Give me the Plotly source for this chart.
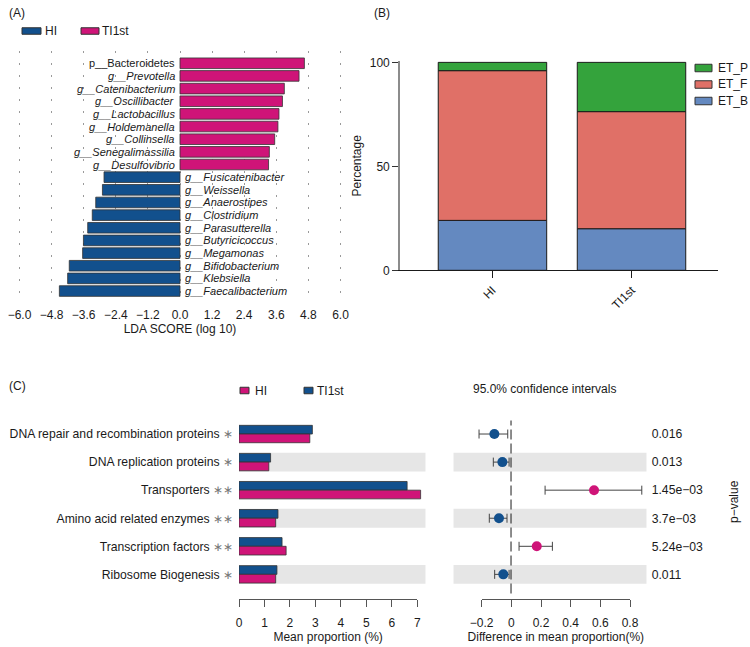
import plotly.graph_objects as go

W, H = 750, 647
FONT = "Liberation Sans, Arial, Helvetica, sans-serif"
TXT = "#1a1a1a"
BLUE = "#12508d"
PINK = "#cf1478"

# ---------------- data ----------------
# Panel A : LEfSe LDA scores
taxa = ["p__Bacteroidetes", "g__Prevotella", "g__Catenibacterium", "g__Oscillibacter",
        "g__Lactobacillus", "g__Holdemanella", "g__Collinsella", "g__Senegalimassilia",
        "g__Desulfovibrio", "g__Fusicatenibacter", "g__Weissella", "g__Anaerostipes",
        "g__Clostridium", "g__Parasutterella", "g__Butyricicoccus", "g__Megamonas",
        "g__Bifidobacterium", "g__Klebsiella", "g__Faecalibacterium"]
lda = [4.65, 4.45, 3.90, 3.83, 3.70, 3.66, 3.54, 3.34, 3.31,
       -2.84, -2.90, -3.15, -3.28, -3.45, -3.61, -3.64, -4.14, -4.20, -4.51]
lda_ticks = [-6.0, -4.8, -3.6, -2.4, -1.2, 0.0, 1.2, 2.4, 3.6, 4.8, 6.0]

# Panel B : enterotype composition
groups = ["HI", "TI1st"]
et_b = [24.0, 20.0]
et_f = [72.0, 56.3]
et_p = [4.0, 23.7]
pct_ticks = [0, 50, 100]

# Panel C : functional differences
functions = ["DNA repair and recombination proteins", "DNA replication proteins",
             "Transporters", "Amino acid related enzymes", "Transcription factors",
             "Ribosome Biogenesis"]
signif = ["∗", "∗", "∗∗", "∗∗", "∗∗", "∗"]
mean_hi = [2.78, 1.17, 7.13, 1.44, 1.85, 1.44]
mean_ti = [2.88, 1.24, 6.60, 1.53, 1.69, 1.49]
diff = [-0.112, -0.058, 0.558, -0.081, 0.173, -0.052]
ci_low = [-0.215, -0.119, 0.229, -0.146, 0.054, -0.110]
ci_high = [-0.022, -0.013, 0.879, -0.027, 0.278, -0.013]
pvals = ["0.016", "0.013", "1.45e−03", "3.7e−03", "5.24e−03", "0.011"]
mean_ticks = [0, 1, 2, 3, 4, 5, 6, 7]
diff_ticks = [-0.2, 0, 0.2, 0.4, 0.6, 0.8]


def fx(p):
    return p / W


def fy(p):
    return 1 - p / H


def num_label(v):
    return f"{v:g}".replace("-", "−")


fig = go.Figure()

# ---------------- Panel A ----------------
hi_idx = [i for i, v in enumerate(lda) if v < 0]
ti_idx = [i for i, v in enumerate(lda) if v >= 0]
fig.add_trace(go.Bar(x=[lda[i] for i in hi_idx], y=[taxa[i] for i in hi_idx], orientation="h",
                     width=0.84, marker=dict(color=BLUE, line=dict(color="#333", width=0.8)),
                     name="HI", showlegend=False, xaxis="x", yaxis="y"))
fig.add_trace(go.Bar(x=[lda[i] for i in ti_idx], y=[taxa[i] for i in ti_idx], orientation="h",
                     width=0.84, marker=dict(color=PINK, line=dict(color="#333", width=0.8)),
                     name="TI1st", showlegend=False, xaxis="x", yaxis="y"))

annotations = []
for t, v in zip(taxa, lda):
    lab = t if t.startswith("p__") else "<i>" + t + "</i>"
    annotations.append(dict(x=0, y=t, xref="x", yref="y", text=lab, showarrow=False,
                            xanchor="right" if v >= 0 else "left", xshift=-3 if v >= 0 else 3,
                            font=dict(size=11, color=TXT)))

# ---------------- Panel B ----------------
et_colors = {"ET_B": "#6489c0", "ET_F": "#e07067", "ET_P": "#34a33c"}
base_f = et_b
base_p = [b + f for b, f in zip(et_b, et_f)]
for name, vals, base in [("ET_B", et_b, None), ("ET_F", et_f, base_f), ("ET_P", et_p, base_p)]:
    fig.add_trace(go.Bar(x=groups, y=vals, base=base, width=0.78, name=name,
                         marker=dict(color=et_colors[name], line=dict(color="#1a1a1a", width=1)),
                         showlegend=False, xaxis="x2", yaxis="y2"))

# ---------------- Panel C (left) ----------------
W_BAR = 0.31
fig.add_trace(go.Bar(x=mean_ti, y=functions, orientation="h", width=W_BAR, offset=-W_BAR,
                     marker=dict(color=BLUE, line=dict(color="#333", width=0.8)),
                     name="TI1st", showlegend=False, xaxis="x3", yaxis="y3"))
fig.add_trace(go.Bar(x=mean_hi, y=functions, orientation="h", width=W_BAR, offset=0,
                     marker=dict(color=PINK, line=dict(color="#333", width=0.8)),
                     name="HI", showlegend=False, xaxis="x3", yaxis="y3"))

# ---------------- Panel C (right) ----------------
pt_colors = [PINK if d > 0 else BLUE for d in diff]
fig.add_trace(go.Scatter(x=diff, y=functions, mode="markers",
                         marker=dict(color=pt_colors, size=10),
                         error_x=dict(type="data", symmetric=False,
                                      array=[h - d for h, d in zip(ci_high, diff)],
                                      arrayminus=[d - l for d, l in zip(diff, ci_low)],
                                      color="#444", thickness=1, width=4.5),
                         showlegend=False, xaxis="x4", yaxis="y4"))

# helper traces so that the free bottom axes of panel C are drawn
fig.add_trace(go.Scatter(x=[None], y=[None], xaxis="x5", yaxis="y3", showlegend=False, hoverinfo="skip"))
fig.add_trace(go.Scatter(x=[None], y=[None], xaxis="x6", yaxis="y4", showlegend=False, hoverinfo="skip"))

# ---------------- shapes ----------------
shapes = []
C_LEFT_RANGE = [0, 7.33]
C_RIGHT_RANGE = [-0.388, 0.912]
for i, f in enumerate(functions):
    if i % 2 == 1:
        shapes.append(dict(type="rect", xref="x3", yref="y3", x0=C_LEFT_RANGE[0], x1=C_LEFT_RANGE[1],
                           y0=i - 0.335, y1=i + 0.335, fillcolor="#e6e6e6", line=dict(width=0),
                           layer="below"))
        shapes.append(dict(type="rect", xref="x4", yref="y4", x0=C_RIGHT_RANGE[0], x1=C_RIGHT_RANGE[1],
                           y0=i - 0.335, y1=i + 0.335, fillcolor="#e6e6e6", line=dict(width=0),
                           layer="below"))
shapes.append(dict(type="line", xref="x4", yref="paper", x0=0, x1=0, y0=fy(593.5), y1=fy(420.5),
                   line=dict(color="#1a1a1a", width=1, dash="10px,4px")))


# legend keys drawn as boxes + labels
def key(x0, x1, yc, h, color, label, tx, lw=1):
    shapes.append(dict(type="rect", xref="paper", yref="paper", x0=fx(x0), x1=fx(x1),
                       y0=fy(yc + h / 2), y1=fy(yc - h / 2), fillcolor=color,
                       line=dict(color="#333", width=lw)))
    annotations.append(dict(x=fx(tx), y=fy(yc), xref="paper", yref="paper", text=label,
                            showarrow=False, xanchor="left", yanchor="middle",
                            font=dict(size=12, color=TXT)))


key(22, 41, 31, 6.5, BLUE, "HI", 43)
key(81, 99, 31, 6.5, PINK, "TI1st", 100)
key(695, 712, 68, 7.5, et_colors["ET_P"], "ET_P", 716)
key(695, 712, 84.5, 7.5, et_colors["ET_F"], "ET_F", 716)
key(695, 712, 101, 7.5, et_colors["ET_B"], "ET_B", 716)
key(240, 249, 390.5, 6.5, PINK, "HI", 253)
key(304, 313, 390.5, 6.5, BLUE, "TI1st", 315)

for txt, x, y in [("(A)", 7, 13), ("(B)", 372, 13), ("(C)", 7, 386)]:
    annotations.append(dict(x=fx(x), y=fy(y), xref="paper", yref="paper", text=txt, showarrow=False,
                            xanchor="left", yanchor="middle", font=dict(size=12, color=TXT)))
annotations.append(dict(x=fx(544), y=fy(389), xref="paper", yref="paper",
                        text="95.0% confidence intervals", showarrow=False, xanchor="center",
                        yanchor="middle", font=dict(size=12, color=TXT)))
annotations.append(dict(x=fx(734), y=fy(502), xref="paper", yref="paper", text="p−value",
                        showarrow=False, textangle=-90, xanchor="center", yanchor="middle",
                        font=dict(size=12, color=TXT)))

tick_font = dict(size=12, color=TXT, family=FONT)
tick_font_c = dict(size=12.2, color=TXT, family=FONT)
hidden = dict(showline=False, showgrid=False, zeroline=False, ticks="", showticklabels=False,
              automargin=False)

fig.update_layout(
    width=W, height=H, margin=dict(l=0, r=0, t=0, b=0),
    paper_bgcolor="white", plot_bgcolor="rgba(0,0,0,0)",
    font=dict(family=FONT, size=12, color=TXT),
    barmode="overlay", showlegend=False,
    shapes=shapes, annotations=annotations,
    # Panel A
    xaxis=dict(domain=[fx(3.45), fx(356.55)], range=[-6.6, 6.6], anchor="y",
               tickvals=lda_ticks, tickformat=".1f", ticks="", showline=False, zeroline=False,
               showgrid=True, gridcolor="#9a9a9a", gridwidth=1, griddash="2px,10px",
               ticklabelstandoff=9, tickfont=tick_font, automargin=False,
               title=dict(text="LDA SCORE (log 10)", standoff=3, font=dict(size=12))),
    yaxis=dict(domain=[fy(297), fy(51)], range=[18.47, -0.97], anchor="x", type="category",
               categoryorder="array", categoryarray=taxa, **hidden),
    # Panel B
    xaxis2=dict(domain=[fx(400), fx(718)], range=[-0.665, 1.622], anchor="y2", type="category",
                categoryorder="array", categoryarray=groups,
                showline=True, linecolor="#1a1a1a", linewidth=1.2, ticks="outside", ticklen=7,
                tickcolor="#1a1a1a", tickwidth=1.2, tickangle=-45, tickfont=tick_font,
                showgrid=False, zeroline=False, automargin=False),
    yaxis2=dict(domain=[fy(270.3), fy(61.3)], range=[0, 100.5], anchor="x2",
                tickvals=pct_ticks, showline=True, linecolor="#8c8c8c", linewidth=1.6,
                ticks="outside", ticklen=6, tickcolor="#333", tickwidth=1.2, tickfont=tick_font,
                showgrid=False, zeroline=False, automargin=False,
                title=dict(text="Percentage", standoff=6, font=dict(size=12))),
    # Panel C left (bars)
    xaxis3=dict(domain=[fx(239), fx(425.7)], range=C_LEFT_RANGE, anchor="y3", **hidden),
    yaxis3=dict(domain=[fy(588.4), fy(420)], range=[5.5, -0.5], anchor="x3", type="category",
                categoryorder="array", categoryarray=functions,
                tickvals=functions,
                ticktext=[f + " <span style='color:#777'>" + s + "</span>" for f, s in zip(functions, signif)],
                showline=False, showgrid=False, zeroline=False, ticks="", ticklabelstandoff=5,
                tickfont=tick_font_c, automargin=False),
    xaxis5=dict(domain=[fx(239), fx(417.3)], range=[0, 7], anchor="free", position=fy(598.5),
                tickvals=mean_ticks, showline=True, linecolor="#555", linewidth=1,
                ticks="outside", ticklen=7, tickcolor="#555", tickwidth=1, tickfont=tick_font,
                ticklabelstandoff=6, showgrid=False, zeroline=False, automargin=False,
                title=dict(text="Mean proportion (%)", standoff=2, font=dict(size=12))),
    # Panel C right (differences)
    xaxis4=dict(domain=[fx(453.3), fx(646.7)], range=C_RIGHT_RANGE, anchor="y4", **hidden),
    yaxis4=dict(domain=[fy(588.4), fy(420)], range=[5.5, -0.5], anchor="x4", type="category",
                categoryorder="array", categoryarray=functions, side="right",
                tickvals=functions, ticktext=pvals,
                showline=False, showgrid=False, zeroline=False, ticks="", ticklabelstandoff=4,
                tickfont=tick_font_c, automargin=False),
    xaxis6=dict(domain=[fx(481.7), fx(630)], range=[-0.2, 0.8], anchor="free", position=fy(599),
                tickvals=diff_ticks, ticktext=[num_label(v) for v in diff_ticks],
                showline=True, linecolor="#555", linewidth=1,
                ticks="outside", ticklen=7, tickcolor="#555", tickwidth=1, tickfont=tick_font,
                ticklabelstandoff=6, showgrid=False, zeroline=False, automargin=False,
                title=dict(text="Difference in mean proportion(%)", standoff=2, font=dict(size=12))),
)

fig.write_html("out.html", config={"displayModeBar": False},
               post_script="document.body.style.margin='0px';")
